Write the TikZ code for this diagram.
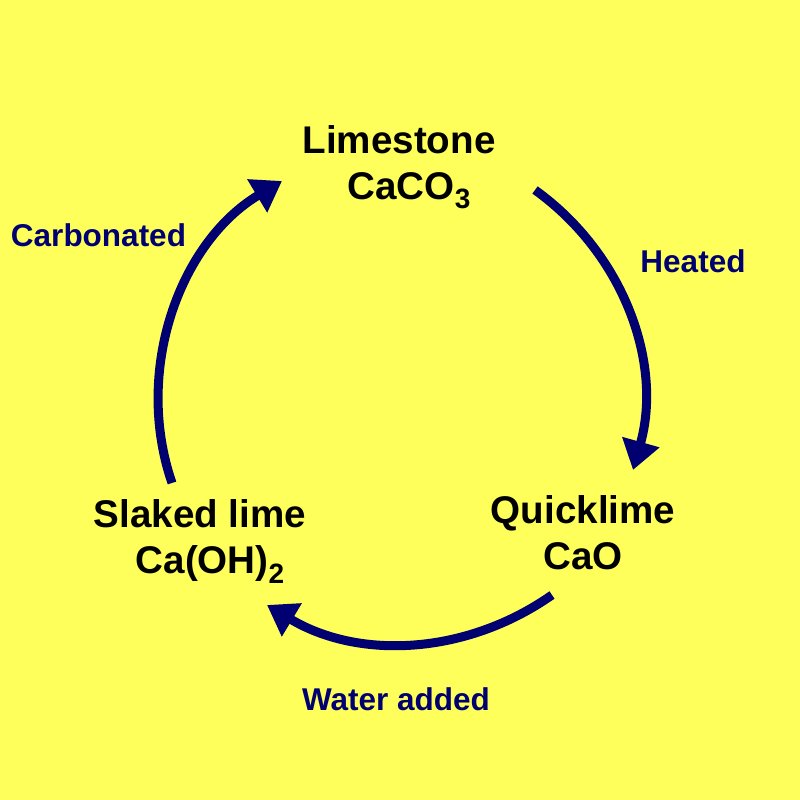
\documentclass[tikz,border=0pt]{standalone}
\usepackage{fontspec}
\setmainfont{Liberation Sans}
\usetikzlibrary{arrows.meta}
\definecolor{bgyellow}{HTML}{FFFF5C}
\definecolor{navyink}{HTML}{000070}
\newcommand{\subdown}[1]{\raisebox{-0.24em}{\fontsize{28}{28}\selectfont #1}}
\tikzset{
  compound/.style={font=\fontsize{38.6}{46}\selectfont\bfseries, text=black, align=center, inner sep=0pt},
  process/.style={font=\fontsize{31.5}{36}\selectfont\bfseries, text=navyink, inner sep=0pt},
  cyclearrow/.style={draw=navyink, line width=9pt, -{Triangle[length=29pt,width=37pt]}}
}
\begin{document}
\begin{tikzpicture}[x=1pt,y=1pt]
\useasboundingbox (0,0) rectangle (800,800);
\fill[bgyellow] (0,0) rectangle (800,800);
\node[compound] (limestone) at (399,633) {Limestone\\\hspace*{20pt}CaCO\subdown{3}};
\node[compound] (quicklime) at (583,267) {Quicklime\\CaO};
\node[compound] (slaked) at (200,258.5) {Slaked lime\\\hspace*{20pt}Ca(OH)\subdown{2}};
\node[process] (heated) at (693,539) {Heated};
\node[process] (water) at (396,101) {Water added};
\node[process] (carbonated) at (98.5,565) {Carbonated};
\coordinate (a1s) at (535,610);
\coordinate (a1e) at (633,330);
\coordinate (a2s) at (552,205);
\coordinate (a2e) at (267,195);
\coordinate (a3s) at (172,317);
\coordinate (a3e) at (282,619);
\draw[cyclearrow] (a1s) to[bend left=35,looseness=.95] (a1e);
\draw[cyclearrow] (a2s) to[bend left=33,looseness=.95] (a2e);
\draw[cyclearrow] (a3s) to[bend left=39,looseness=.95] (a3e);
\end{tikzpicture}
\end{document}
